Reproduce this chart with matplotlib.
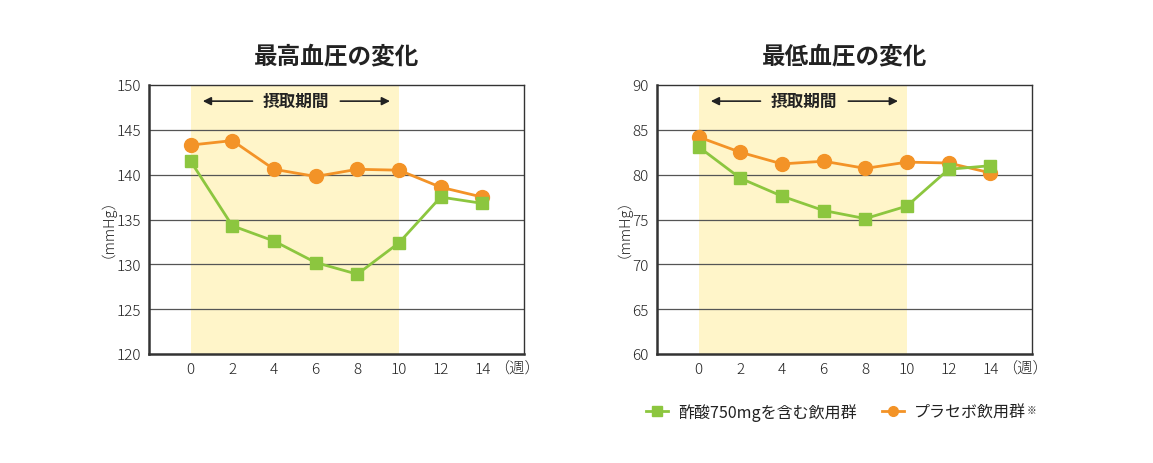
import matplotlib
matplotlib.use("Agg")
import matplotlib.pyplot as plt
from matplotlib.lines import Line2D

plt.rcParams['font.family'] = ['Noto Sans CJK JP', 'DejaVu Sans']

weeks = [0, 2, 4, 6, 8, 10, 12, 14]
sys_acetic = [141.5, 134.3, 132.6, 130.2, 128.9, 132.4, 137.5, 136.8]
sys_placebo = [143.3, 143.8, 140.6, 139.8, 140.6, 140.5, 138.6, 137.5]
dia_acetic = [83.1, 79.6, 77.6, 76.0, 75.1, 76.5, 80.6, 81.0]
dia_placebo = [84.2, 82.5, 81.2, 81.5, 80.7, 81.4, 81.3, 80.2]
titles = ['最高血圧の変化', '最低血圧の変化']
label_acetic = '酢酸750mgを含む飲用群'
label_placebo = 'プラセボ飲用群'
note_mark = '※'
intake_label = '摂取期間'
ylims = [(120, 150), (60, 90)]

GREEN = '#8CC63F'
ORANGE = '#F39327'
SHADE = '#FFF5C9'
DARK = '#333333'
TXT = '#222222'

W, H = 1153, 464
fig = plt.figure(figsize=(W / 100, H / 100), dpi=100)

lefts = [149, 657]
for i, (acetic, placebo) in enumerate([(sys_acetic, sys_placebo), (dia_acetic, dia_placebo)]):
    ax = fig.add_axes([lefts[i] / W, 1 - 355 / H, 375 / W, 269 / H])
    lo, hi = ylims[i]
    ax.set_xlim(-2, 16)
    ax.set_ylim(lo, hi)
    ax.axvspan(0, 10, color=SHADE, zorder=0, lw=0)
    for yv in range(lo + 5, hi, 5):
        ax.axhline(yv, color='#555555', lw=0.9, zorder=1)
    ax.plot(weeks, acetic, color=GREEN, lw=2, marker='s', ms=9, zorder=3)
    ax.plot(weeks, placebo, color=ORANGE, lw=2, marker='o', ms=10, zorder=2)
    ax.set_xticks(weeks)
    ax.set_yticks(range(lo, hi + 1, 5))
    ax.tick_params(length=0, labelsize=11, colors=TXT, pad=6)
    for lab in ax.get_xticklabels() + ax.get_yticklabels():
        lab.set_fontweight('light')
    for s in ax.spines.values():
        s.set_color(DARK)
        s.set_linewidth(1.0)
    ax.spines['left'].set_linewidth(1.8)
    ax.spines['bottom'].set_linewidth(1.8)
    ax.set_ylabel('（mmHg）', fontsize=10.5, color=TXT, labelpad=6, fontweight='light')
    ax.text(14.55, lo - (hi - lo) * 0.022, '（週）', fontsize=11,
            ha='left', va='top', color=TXT, fontweight='light')
    ya = hi - (hi - lo) * 0.06
    ax.text(5.05, ya, intake_label, fontsize=12, fontweight='bold', ha='center',
            va='center', color=TXT)
    ax.annotate('', xy=(0.45, ya), xytext=(3.1, ya),
                arrowprops=dict(arrowstyle='-|>', color=TXT, lw=1.2, mutation_scale=12))
    ax.annotate('', xy=(9.7, ya), xytext=(7.05, ya),
                arrowprops=dict(arrowstyle='-|>', color=TXT, lw=1.2, mutation_scale=12))
    ax.set_title(titles[i], fontsize=17, fontweight='bold', pad=16, color=TXT)

handles = [Line2D([], [], color=GREEN, lw=2, marker='s', ms=7),
           Line2D([], [], color=ORANGE, lw=2, marker='o', ms=7)]
leg = fig.legend(handles, [label_acetic, label_placebo], loc='center',
                 bbox_to_anchor=(836 / W, 1 - 413 / H), ncol=2, frameon=False,
                 fontsize=11.5, handlelength=1.4, columnspacing=1.6, handletextpad=0.6)
for t in leg.get_texts():
    t.set_color(TXT)

fig.canvas.draw()
r = fig.canvas.get_renderer()
bb = leg.get_texts()[1].get_window_extent(r)
fig.text((bb.x1 + 1) / W, (bb.y1 - 1) / H, note_mark, fontsize=7, ha='left', va='top', color=TXT)

fig.savefig('out.png', dpi=100, facecolor='white')
